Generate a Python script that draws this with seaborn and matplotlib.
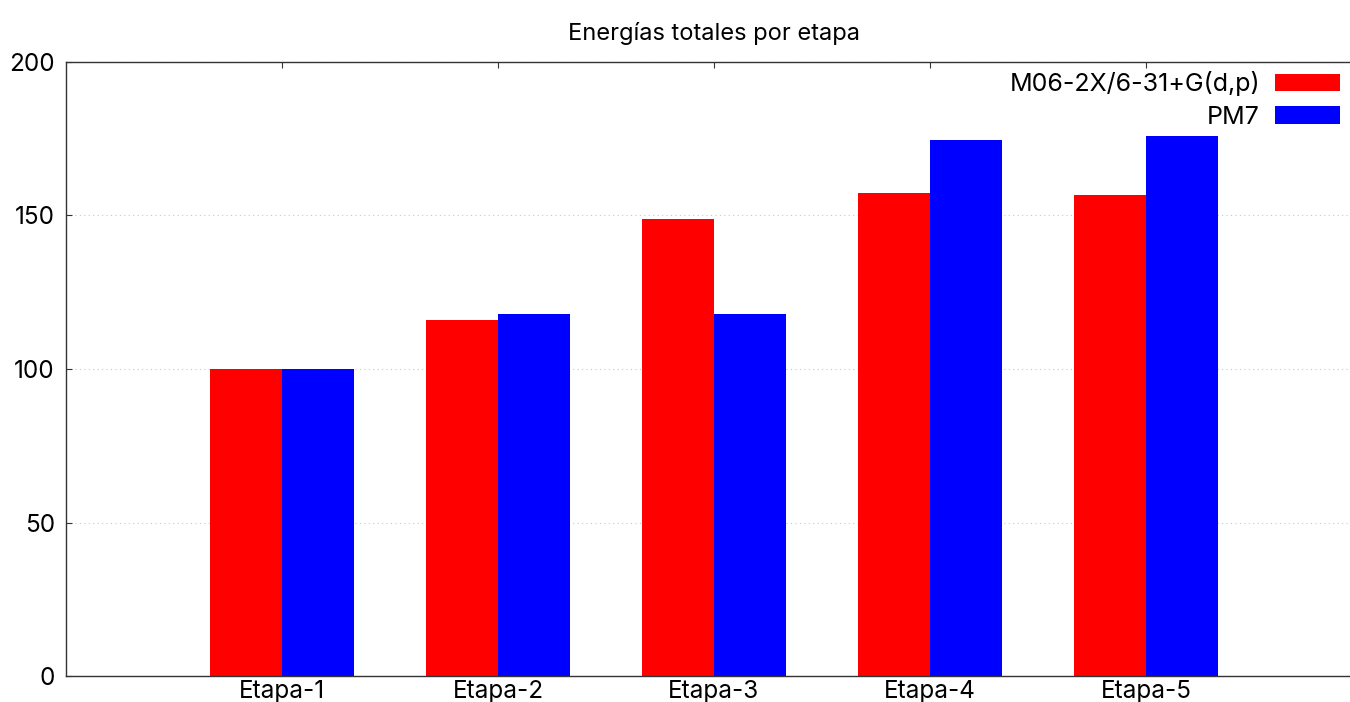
import pandas as pd
import numpy as np
import matplotlib
matplotlib.use('Agg')
import matplotlib.pyplot as plt
import seaborn as sns
from matplotlib.patches import Patch

# ── Data ─────────────────────────────────────────────────────────────────────
etapas = ['Etapa-1', 'Etapa-2', 'Etapa-3', 'Etapa-4', 'Etapa-5']
dft_vals = [100.0, 115.9, 148.8, 157.4, 156.7]   # M06-2X/6-31+G(d,p)
pm7_vals = [100.0, 118.0, 118.0, 174.5, 175.9]   # PM7
series = ['M06-2X/6-31+G(d,p)', 'PM7']
colors = {'M06-2X/6-31+G(d,p)': '#ff0000', 'PM7': '#0000ff'}

df = pd.DataFrame({
    'Etapa': etapas * 2,
    'Metodo': [series[0]] * len(etapas) + [series[1]] * len(etapas),
    'Energia': dft_vals + pm7_vals,
})

sns.set_style('white')
plt.rcParams['font.family'] = ['Inter', 'DejaVu Sans']
plt.rcParams['text.color'] = 'black'
plt.rcParams['xtick.color'] = 'black'
plt.rcParams['ytick.color'] = 'black'

fig = plt.figure(figsize=(13.5, 7.02), dpi=100)
ax = fig.add_axes([66/1350, 26/702, 1296/1350, 614/702])

sns.barplot(data=df, x='Etapa', y='Energia', hue='Metodo', palette=colors,
            saturation=1, width=2/3, ax=ax, legend=False, linewidth=0)

ax.set_xlim(-1, 5)
ax.set_ylim(0, 200)
ax.set_yticks([0, 50, 100, 150, 200])
ax.set_xlabel(''); ax.set_ylabel('')
ax.set_axisbelow(True)
ax.yaxis.grid(True, linestyle=(0, (1, 3)), color='#c8c8c8', linewidth=0.8)

for s in ax.spines.values():
    s.set_color('#333333'); s.set_linewidth(1.0)
ax.tick_params(axis='both', direction='in', length=4, color='#333333',
               labelsize=17.5, labelcolor='black')
ax.tick_params(axis='x', top=True, bottom=True, pad=3)
ax.tick_params(axis='y', left=True, right=False, pad=8)

ax.set_title('Energías totales por etapa', fontsize=17, pad=16, color='black')

handles = [Patch(facecolor=colors[s], edgecolor='none', label=s) for s in series]
ax.legend(handles=handles, loc='upper right',
          bbox_to_anchor=((1345 - 66)/1296, 1.0 - 4/614),
          frameon=False, markerfirst=False, fontsize=18, handlelength=2.6,
          handleheight=0.7, handletextpad=0.6, labelspacing=0.38,
          borderaxespad=0, borderpad=0.2)

fig.savefig('out.png', dpi=100)
